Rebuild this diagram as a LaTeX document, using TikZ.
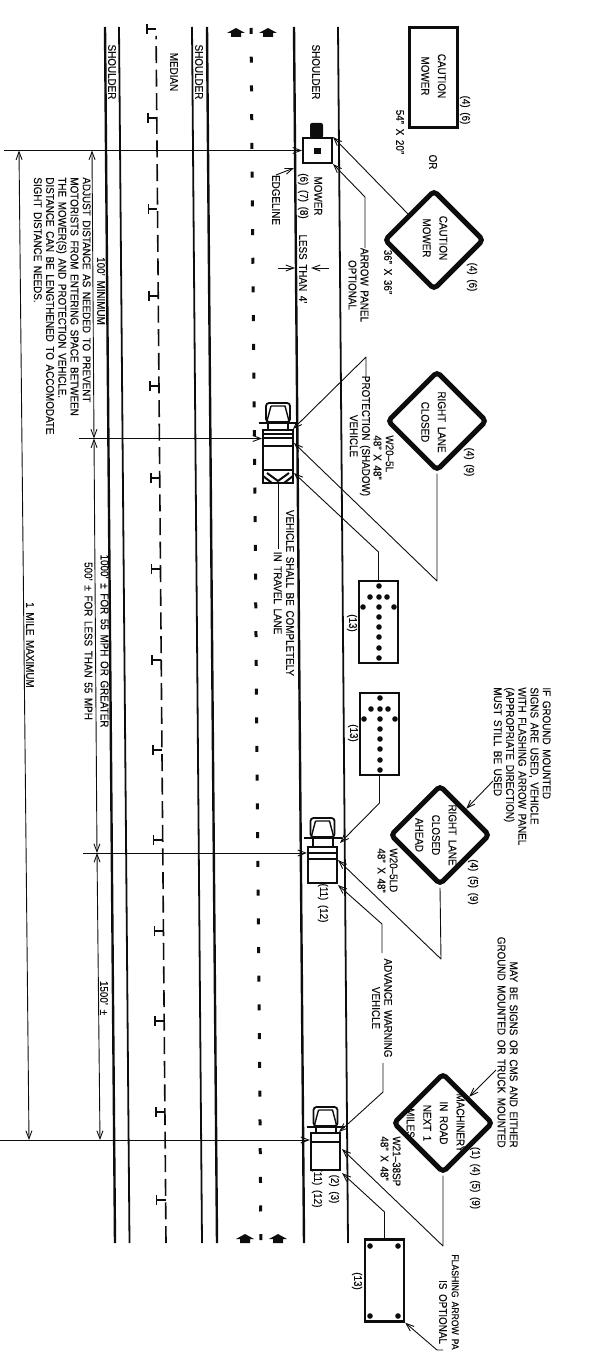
\documentclass[tikz,border=0pt]{standalone}
\usepackage{fontspec}
\setmainfont[FakeStretch=0.88, FakeBold=0.25, WordSpace=1.7]{Liberation Sans}
\usepackage{xcolor}
\usetikzlibrary{arrows.meta, calc, shapes.geometric}
\definecolor{RichBlack}{gray}{0.05}
\tikzset{%
  smooth_annotate/.style={%
    rotate=-90,%
    color=RichBlack,%
    inner sep=0,%
    align=center,%
    font={\fontsize{5.6}{6.1}\selectfont},%
  },
  sign_text/.style={%
    smooth_annotate,%
    font={\fontsize{5.6}{8.3}\selectfont},%
  },
  note_left/.style={%
    smooth_annotate,%
    align=left,%
    anchor=north west,%
  },
  note_right/.style={%
    smooth_annotate,%
    align=right,%
    anchor=north east,%
  },
  road_thick/.style={color=RichBlack, line width=1.2pt},
  road_thin/.style={color=RichBlack, line width=0.9pt},
  sign_rect/.style={%
    draw=RichBlack,%
    rectangle,%
    rotate=-90,%
    line width=1.7pt,%
    minimum width=50pt,%
    minimum height=24pt,%
  },
  sign_diamond/.style={%
    draw=RichBlack,%
    diamond,%
    rotate=-90,%
    rounded corners=2pt,%
    line width=2.5pt,%
    inner sep=0,%
    minimum size=50pt,%
  },
  panel/.style={%
    draw=RichBlack,%
    rectangle,%
    line width=1.2pt,%
    minimum width=19.5pt,%
    minimum height=41pt,%
  },
  truck_box/.style={%
    draw=RichBlack,%
    fill=white,%
    rectangle,%
    line width=1pt,%
    inner sep=0,%
  },
  bulb/.style={fill=RichBlack, circle, inner sep=0, minimum size=2.8pt},
  smooth_path/.style={%
    color=RichBlack,%
    line join=round,%
    line width=0.45pt,%
  },
  arrow/.style={-{Straight Barb[length=4pt, width=3pt]}},
  dim/.style={{Straight Barb[length=4pt, width=3pt]}-{Straight Barb[length=4pt, width=3pt]}},
  pics/truck_cab/.style={%
    code={%
      \draw [truck_box] (-10, 30) rectangle (10, 18);
      \draw [truck_box, rounded corners=1.5pt, line width=0.9pt] (-12, 0) rectangle (12, 19);
      \draw [color=RichBlack, line width=0.7pt] (-7, 3) -- (7, 3) -- (11, 18) (-7, 3) -- (-11, 18);
      \draw [color=RichBlack, line width=1pt] (-19, 20) -- (19, 20);
    }
  },
  pics/lane_arrow/.style={%
    code={%
      \fill [RichBlack] (0, -5) -- (9, 0) -- (5, 0) -- (5, 4) -- (-5, 4) -- (-5, 0) -- (-9, 0) -- cycle;
    }
  },
}

\begin{document}
\begin{tikzpicture}[x=0.5pt, y=-0.5pt]

    \useasboundingbox (0, 0) rectangle (589, 1353);

    \draw [road_thick] (105, 27) -- (115, 1243);
    \draw [road_thin] (119, 27) -- (129.5, 1243);
    \draw [road_thin] (192, 27) -- (202, 1243);
    \draw [road_thick] (207, 27) -- (217, 1243);
    \draw [road_thick] (294, 27) -- (304, 1243);
    \draw [road_thin] (338, 27) -- (348, 1243);
    \draw [color=RichBlack, line width=0.8pt, dash pattern=on 8.5pt off 3.3pt]
      (166, 1243) -- (156.1, 36);
    \draw [color=RichBlack, line width=1.5pt, dash pattern=on 3pt off 11.36pt]
      (251, 28) -- (261, 1243);
    \foreach \y in {29, 118, 209, 296, 386, 478, 569, 660, 750, 840, 931, 1021, 1112, 1200} {
      \pgfmathsetmacro{\xm}{156 + (\y - 27) * 0.00822}
      \draw [color=RichBlack, line width=0.8pt]
        (\xm, \y) -- (\xm - 9, \y) (\xm - 9, \y - 5) -- (\xm - 9, \y + 5);
    }
    \foreach \x/\y in {236/33, 268/33, 245/1239, 278/1239} {
      \pic at (\x, \y) {lane_arrow};
    }

    \node [smooth_annotate] (shoulder_a) at (112, 72) {SHOULDER};
    \node [smooth_annotate] (median) at (174, 72) {MEDIAN};
    \node [smooth_annotate] (shoulder_b) at (199, 72) {SHOULDER};
    \node [smooth_annotate] (shoulder_c) at (316, 72) {SHOULDER};

    \node [sign_rect] (Sign_rect) at (433.5, 77.5) {};
    \node [sign_text] (rect_text) at (433.5, 76) {CAUTION\\MOWER};
    \node [smooth_annotate] (rect_note) at (465, 110) {(4) (6)};
    \node [smooth_annotate] (rect_size) at (400, 132) {54'' X 20''};
    \node [smooth_annotate] (or_text) at (433, 162) {OR};

    \node [sign_diamond] (Sign_caution) at (434, 240) {};
    \node [sign_text] (caution_text) at (435, 238) {CAUTION\\MOWER};
    \node [smooth_annotate] (caution_note) at (472, 277) {(4) (6)};
    \node [smooth_annotate] (caution_size) at (388, 272) {36'' X 36''};

    \node [sign_diamond] (Sign_closed) at (437, 421) {};
    \node [sign_text] (closed_text) at (433.5, 422) {RIGHT LANE\\CLOSED};
    \node [smooth_annotate] (closed_note) at (469, 462) {(4) (9)};
    \node [note_left] (closed_size) at (394, 435) {W20--5L\\48'' X 48''};

    \node [sign_diamond] (Sign_ahead) at (440, 835) {};
    \node [sign_text] (ahead_text) at (436, 835) {RIGHT LANE\\CLOSED\\AHEAD};
    \node [smooth_annotate] (ahead_note) at (473, 882) {(4) (5) (9)};
    \node [note_left] (ahead_size) at (398, 848) {W20--5LD\\48'' X 48''};

    \node [sign_diamond] (Sign_machinery) at (443, 1123) {};
    \node [sign_text] (machinery_text) at (435.5, 1123) {MACHINERY\\IN ROAD\\NEXT 1\\MILES};
    \node [smooth_annotate] (machinery_note) at (475, 1178) {(1) (4) (5) (9)};
    \node [note_left] (machinery_size) at (401, 1136) {W21--38SP\\48'' X 48''};

    \node [truck_box, minimum width=14.5pt, minimum height=12.5pt] (Mower) at (317.5, 150.5) {};
    \fill [RichBlack, rounded corners=1pt] (310, 138) -- (310, 123) -- (323, 123) -- (323, 138) -- cycle;
    \fill [RichBlack] (314, 148) rectangle (321, 154);
    \node [smooth_annotate] (mower_text) at (310, 196) {MOWER\\[1pt](6) (7) (8)};

    \pic at (278, 403) {truck_cab};
    \node [truck_box, minimum width=15pt, minimum height=26.5pt] (Protection) at (278, 456.5) {};
    \draw [color=RichBlack, line width=0.7pt] (263, 434) -- (293, 434) (263, 438) -- (293, 438);
    \draw [color=RichBlack, line width=1pt] (263, 446) -- (293, 446) (263, 470) -- (293, 470);
    \draw [color=RichBlack, line width=1pt] (267, 473) -- (278, 481) -- (289, 473);
    \draw [color=RichBlack, line width=1pt] (263, 476) -- (272, 483) (293, 476) -- (284, 483);

    \pic at (322.5, 818) {truck_cab};
    \node [truck_box, minimum width=14.5pt, minimum height=18pt] (Warning) at (322.5, 865) {};
    \draw [color=RichBlack, line width=0.7pt] (308, 853) -- (337, 853) (308, 859) -- (337, 859);
    \node [smooth_annotate] (warning_note) at (323, 903) {(11) (12)};

    \pic at (325.5, 1107) {truck_cab};
    \node [truck_box, minimum width=14.5pt, minimum height=18.5pt] (Advance) at (325.5, 1151.5) {};
    \draw [color=RichBlack, line width=0.7pt] (311, 1142) -- (340, 1142);
    \node [smooth_annotate] (advance_note_a) at (334, 1189) {(2) (3)};
    \node [smooth_annotate] (advance_note_b) at (317, 1188) {(11) (12)};

    \node [panel] (Panel_a) at (378.5, 622) {};
    \node [panel] (Panel_b) at (379.5, 734) {};
    \node [panel] (Panel_c) at (384.5, 1280.5) {};
    \foreach \y in {586, 597, 607, 617, 627, 637, 648, 658} {
      \node [bulb] at (379, \y) {};
      \node [bulb] at (380, \y + 112) {};
    }
    \foreach \x/\y in {370/597, 387/597, 363/607, 394/607, 371/709, 388/709, 364/719, 395/719, 370/1246, 398/1246, 370/1316, 398/1316} {
      \node [bulb] at (\x, \y) {};
    }
    \node [smooth_annotate] (panel_a_note) at (352, 623) {(13)};
    \node [smooth_annotate] (panel_b_note) at (353, 733) {(13)};
    \node [smooth_annotate] (panel_c_note) at (357, 1281) {(13)};

    \node [smooth_annotate] (edgeline) at (276, 200) {EDGELINE};
    \node [smooth_annotate] (less_than) at (303, 269) {LESS THAN 4'};
    \node [smooth_annotate] (arrow_panel) at (358.5, 285) {ARROW PANEL\\OPTIONAL};
    \node [smooth_annotate] (protection_text) at (360, 436) {PROTECTION (SHADOW)\\VEHICLE};
    \node [smooth_annotate] (travel_lane) at (284, 593) {VEHICLE SHALL BE COMPLETELY\\IN TRAVEL LANE};
    \node [smooth_annotate] (advance_text) at (382, 1008) {ADVANCE WARNING\\VEHICLE};
    \node [note_left] (if_ground) at (551, 687) {IF GROUND MOUNTED\\SIGNS ARE USED, VEHICLE\\WITH FLASHING ARROW PANEL\\(APPROPRIATE DIRECTION)\\MUST STILL BE USED};
    \node [note_right] (may_be) at (518, 1148) {MAY BE SIGNS OR CMS AND EITHER\\GROUND MOUNTED OR TRUCK MOUNTED};
    \node [note_left, font={\fontsize{4.9}{6}\selectfont}] (flashing) at (459, 1254) {FLASHING ARROW PA};
    \node [smooth_annotate] (is_optional) at (443, 1312) {IS OPTIONAL};
    \node [note_left] (adjust) at (91, 177) {ADJUST DISTANCE AS NEEDED TO PREVENT\\MOTORISTS FROM ENTERING SPACE BETWEEN\\THE MOWER(S) AND PROTECTION VEHICLE.\\DISTANCE CAN BE LENGTHENED TO ACCOMODATE\\SIGHT DISTANCE NEEDS.};
    \node [smooth_annotate] (minimum) at (101, 291) {100' MINIMUM};
    \node [smooth_annotate] (thousand) at (96.5, 641) {1000' ± FOR 55 MPH OR GREATER\\[2pt]500' ± FOR LESS THAN 55 MPH};
    \node [smooth_annotate] (fifteen) at (104, 998) {1500' ±};
    \node [smooth_annotate] (mile) at (30, 645) {1 MILE MAXIMUM};

    \coordinate (Cross_a) at (4, 150.5);
    \coordinate (Cross_b) at (79, 438.5);
    \coordinate (Cross_c) at (83, 853);
    \coordinate (Cross_d) at (0, 1140);
    \coordinate (Dim_a) at (92, 150.5);
    \coordinate (Dim_b) at (94, 438.5);
    \coordinate (Dim_c) at (97, 853);
    \coordinate (Dim_d) at (100, 1140);
    \coordinate (Mile_a) at (19, 150.5);
    \coordinate (Mile_b) at (29, 1140);

    \draw [arrow, smooth_path] (Cross_a) -- (Mower.west);
    \draw [arrow, smooth_path] (Cross_b) -- (Cross_b -| Protection.west);
    \draw [arrow, smooth_path] (Cross_c) -- (Cross_c -| Warning.west);
    \draw [arrow, smooth_path] (Cross_d) -- (Cross_d -| Advance.west);
    \draw [dim, smooth_path] (Dim_a) -- (Dim_b);
    \draw [dim, smooth_path] (Dim_b) -- (Dim_c);
    \draw [dim, smooth_path] (Dim_c) -- (Dim_d);
    \draw [dim, smooth_path] (Mile_a) -- (Mile_b);

    \coordinate (Edge_from) at (276, 175);
    \coordinate (Edge_to) at (294, 168);
    \coordinate (Less_left) at (278, 268);
    \coordinate (Less_edge) at (295, 268);
    \coordinate (Less_right) at (329, 268);
    \coordinate (Less_side) at (311, 268);
    \draw [arrow, smooth_path] (Edge_from) -- (Edge_to);
    \draw [arrow, smooth_path] (Less_left) -- (Less_edge);
    \draw [arrow, smooth_path] (Less_right) -- (Less_side);

    \draw [arrow, smooth_path]
      (Sign_caution.south west)
      --
      (Mower.north east);
    \draw [arrow, smooth_path]
      (365, 248)
      --
      (365, 197)
      --
      (Mower.south east);
    \draw [arrow, smooth_path]
      (366, 377)
      --
      (366, 357)
      --
      (293, 429);
    \draw [arrow, smooth_path]
      (Sign_closed.east)
      --
      (437, 581)
      --
      (294, 443);
    \draw [arrow, smooth_path]
      (Panel_a.north)
      --
      (378.5, 552)
      --
      (294, 473);
    \draw [smooth_path]
      (278, 483)
      --
      (278, 549);
    \draw [arrow, smooth_path]
      (Panel_b.south)
      --
      (379.5, 803)
      --
      (340, 843);
    \draw [arrow, smooth_path]
      (Sign_ahead.east)
      --
      (441, 959)
      --
      (338, 860);
    \draw [arrow, smooth_path]
      (382, 953)
      --
      (382, 924)
      --
      (338, 885);
    \draw [arrow, smooth_path]
      (383, 1063)
      --
      (383, 1092)
      --
      (339, 1132);
    \draw [arrow, smooth_path]
      (Sign_machinery.east)
      --
      (443, 1246)
      --
      (342, 1149);
    \draw [arrow, smooth_path]
      (Panel_c.north)
      --
      (384.5, 1212)
      --
      (342, 1173);
    \draw [arrow, smooth_path]
      (493, 781)
      --
      (Sign_ahead.north west);
    \draw [arrow, smooth_path]
      (496, 1070)
      --
      (Sign_machinery.north west);
    \draw [arrow, smooth_path]
      (443, 1350)
      --
      (437, 1350)
      --
      (Panel_c.south east);

\end{tikzpicture}
\end{document}
